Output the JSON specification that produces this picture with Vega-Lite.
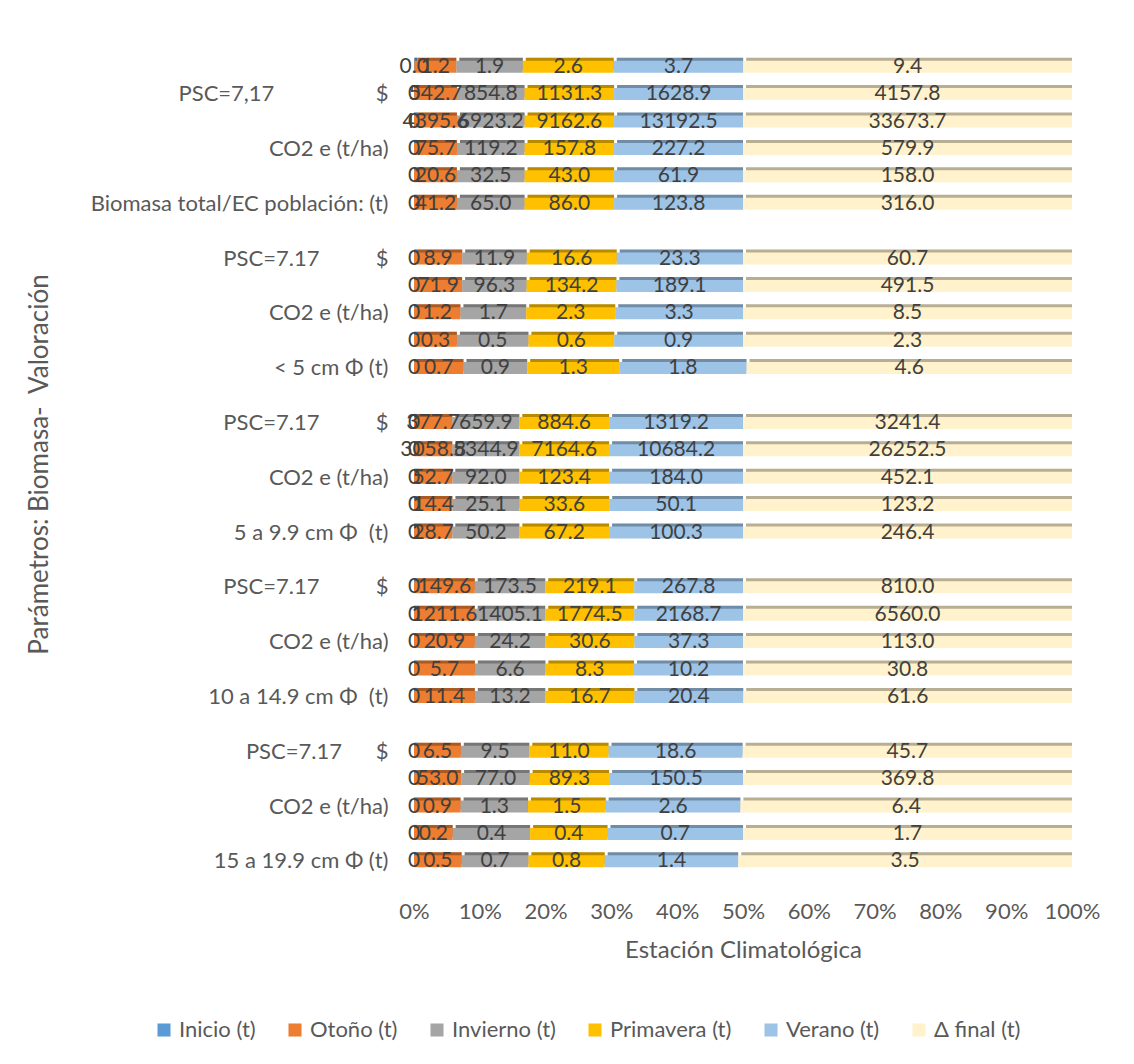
{
  "$schema": "https://vega.github.io/schema/vega-lite/v6.json",
  "width": 658,
  "height": 822,
  "autosize": {"type": "none"},
  "padding": {"left": 414, "top": 53, "right": 62, "bottom": 189},
  "background": "white",
  "config": {
    "font": "Lato",
    "view": {"stroke": null},
    "axis": {
      "labelFont": "Lato",
      "labelFontSize": 22,
      "labelColor": "#595959",
      "labelLimit": 0,
      "labelOverlap": false,
      "labelFlush": false,
      "titleFont": "Lato",
      "titleFontWeight": "normal",
      "titleColor": "#595959",
      "domain": false,
      "ticks": false,
      "grid": false
    },
    "legend": {
      "labelFont": "Lato",
      "labelFontSize": 22,
      "labelColor": "#595959",
      "labelLimit": 0
    }
  },
  "datasets": {
    "series": [
      {"s": "Inicio (t)", "k": 1},
      {"s": "Otoño (t)", "k": 2},
      {"s": "Invierno (t)", "k": 3},
      {"s": "Primavera (t)", "k": 4},
      {"s": "Verano (t)", "k": 5},
      {"s": "Δ final (t)", "k": 6}
    ],
    "rows": [
      {"r": "r01", "Inicio (t)": 0.01, "Otoño (t)": 1.2, "Invierno (t)": 1.9, "Primavera (t)": 2.6, "Verano (t)": 3.7, "Δ final (t)": 9.4},
      {"r": "r02", "Inicio (t)": 0, "Otoño (t)": 542.7, "Invierno (t)": 854.8, "Primavera (t)": 1131.3, "Verano (t)": 1628.9, "Δ final (t)": 4157.8},
      {"r": "r03", "Inicio (t)": 0, "Otoño (t)": 4395.6, "Invierno (t)": 6923.2, "Primavera (t)": 9162.6, "Verano (t)": 13192.5, "Δ final (t)": 33673.7},
      {"r": "r04", "Inicio (t)": 0, "Otoño (t)": 75.7, "Invierno (t)": 119.2, "Primavera (t)": 157.8, "Verano (t)": 227.2, "Δ final (t)": 579.9},
      {"r": "r05", "Inicio (t)": 0, "Otoño (t)": 20.6, "Invierno (t)": 32.5, "Primavera (t)": 43.0, "Verano (t)": 61.9, "Δ final (t)": 158.0},
      {"r": "r06", "Inicio (t)": 0, "Otoño (t)": 41.2, "Invierno (t)": 65.0, "Primavera (t)": 86.0, "Verano (t)": 123.8, "Δ final (t)": 316.0},
      {"r": "r08", "Inicio (t)": 0, "Otoño (t)": 8.9, "Invierno (t)": 11.9, "Primavera (t)": 16.6, "Verano (t)": 23.3, "Δ final (t)": 60.7},
      {"r": "r09", "Inicio (t)": 0, "Otoño (t)": 71.9, "Invierno (t)": 96.3, "Primavera (t)": 134.2, "Verano (t)": 189.1, "Δ final (t)": 491.5},
      {"r": "r10", "Inicio (t)": 0, "Otoño (t)": 1.2, "Invierno (t)": 1.7, "Primavera (t)": 2.3, "Verano (t)": 3.3, "Δ final (t)": 8.5},
      {"r": "r11", "Inicio (t)": 0, "Otoño (t)": 0.3, "Invierno (t)": 0.5, "Primavera (t)": 0.6, "Verano (t)": 0.9, "Δ final (t)": 2.3},
      {"r": "r12", "Inicio (t)": 0, "Otoño (t)": 0.7, "Invierno (t)": 0.9, "Primavera (t)": 1.3, "Verano (t)": 1.8, "Δ final (t)": 4.6},
      {"r": "r14", "Inicio (t)": 0, "Otoño (t)": 377.7, "Invierno (t)": 659.9, "Primavera (t)": 884.6, "Verano (t)": 1319.2, "Δ final (t)": 3241.4},
      {"r": "r15", "Inicio (t)": 0, "Otoño (t)": 3058.8, "Invierno (t)": 5344.9, "Primavera (t)": 7164.6, "Verano (t)": 10684.2, "Δ final (t)": 26252.5},
      {"r": "r16", "Inicio (t)": 0, "Otoño (t)": 52.7, "Invierno (t)": 92.0, "Primavera (t)": 123.4, "Verano (t)": 184.0, "Δ final (t)": 452.1},
      {"r": "r17", "Inicio (t)": 0, "Otoño (t)": 14.4, "Invierno (t)": 25.1, "Primavera (t)": 33.6, "Verano (t)": 50.1, "Δ final (t)": 123.2},
      {"r": "r18", "Inicio (t)": 0, "Otoño (t)": 28.7, "Invierno (t)": 50.2, "Primavera (t)": 67.2, "Verano (t)": 100.3, "Δ final (t)": 246.4},
      {"r": "r20", "Inicio (t)": 0, "Otoño (t)": 149.6, "Invierno (t)": 173.5, "Primavera (t)": 219.1, "Verano (t)": 267.8, "Δ final (t)": 810.0},
      {"r": "r21", "Inicio (t)": 0, "Otoño (t)": 1211.6, "Invierno (t)": 1405.1, "Primavera (t)": 1774.5, "Verano (t)": 2168.7, "Δ final (t)": 6560.0},
      {"r": "r22", "Inicio (t)": 0, "Otoño (t)": 20.9, "Invierno (t)": 24.2, "Primavera (t)": 30.6, "Verano (t)": 37.3, "Δ final (t)": 113.0},
      {"r": "r23", "Inicio (t)": 0, "Otoño (t)": 5.7, "Invierno (t)": 6.6, "Primavera (t)": 8.3, "Verano (t)": 10.2, "Δ final (t)": 30.8},
      {"r": "r24", "Inicio (t)": 0, "Otoño (t)": 11.4, "Invierno (t)": 13.2, "Primavera (t)": 16.7, "Verano (t)": 20.4, "Δ final (t)": 61.6},
      {"r": "r26", "Inicio (t)": 0, "Otoño (t)": 6.5, "Invierno (t)": 9.5, "Primavera (t)": 11.0, "Verano (t)": 18.6, "Δ final (t)": 45.7},
      {"r": "r27", "Inicio (t)": 0, "Otoño (t)": 53.0, "Invierno (t)": 77.0, "Primavera (t)": 89.3, "Verano (t)": 150.5, "Δ final (t)": 369.8},
      {"r": "r28", "Inicio (t)": 0, "Otoño (t)": 0.9, "Invierno (t)": 1.3, "Primavera (t)": 1.5, "Verano (t)": 2.6, "Δ final (t)": 6.4},
      {"r": "r29", "Inicio (t)": 0, "Otoño (t)": 0.2, "Invierno (t)": 0.4, "Primavera (t)": 0.4, "Verano (t)": 0.7, "Δ final (t)": 1.7},
      {"r": "r30", "Inicio (t)": 0, "Otoño (t)": 0.5, "Invierno (t)": 0.7, "Primavera (t)": 0.8, "Verano (t)": 1.4, "Δ final (t)": 3.5}
    ]
  },
  "data": {"name": "rows"},
  "transform": [
    {"fold": ["Inicio (t)", "Otoño (t)", "Invierno (t)", "Primavera (t)", "Verano (t)", "Δ final (t)"], "as": ["s", "v"]},
    {"lookup": "s", "from": {"data": {"name": "series"}, "key": "s", "fields": ["k"]}},
    {"stack": "v", "groupby": ["r"], "sort": [{"field": "k", "order": "ascending"}], "offset": "normalize", "as": ["x0", "x1"]},
    {"calculate": "(datum.x0 + datum.x1) / 2", "as": "mid"},
    {"calculate": "datum.v === 0 ? '0' : format(datum.v, '.1f')", "as": "lbl"}
  ],
  "encoding": {
    "y": {
      "field": "r",
      "type": "nominal",
      "scale": {
        "domain": ["r01","r02","r03","r04","r05","r06","r07","r08","r09","r10","r11","r12","r13","r14","r15","r16","r17","r18","r19","r20","r21","r22","r23","r24","r25","r26","r27","r28","r29","r30"],
        "paddingInner": 0,
        "paddingOuter": 0
      },
      "axis": {
        "title": "Parámetros: Biomasa-\u00a0\u00a0Valoración",
        "titleFontSize": 26,
        "titleX": -362,
        "titleY": 411,
        "titleAnchor": "middle",
        "labelPadding": 26,
        "labelExpr": "({'r02': 'PSC=7,17\u00a0\u00a0\u00a0\u00a0\u00a0\u00a0\u00a0\u00a0\u00a0\u00a0\u00a0\u00a0\u00a0\u00a0\u00a0\u00a0\u00a0\u00a0$', 'r04': 'CO2 e (t/ha)', 'r06': 'Biomasa total/EC población: (t)', 'r08': 'PSC=7.17\u00a0\u00a0\u00a0\u00a0\u00a0\u00a0\u00a0\u00a0\u00a0\u00a0$', 'r10': 'CO2 e (t/ha)', 'r12': '< 5 cm Φ (t)', 'r14': 'PSC=7.17\u00a0\u00a0\u00a0\u00a0\u00a0\u00a0\u00a0\u00a0\u00a0\u00a0$', 'r16': 'CO2 e (t/ha)', 'r18': '5 a 9.9 cm Φ\u00a0\u00a0(t)', 'r20': 'PSC=7.17\u00a0\u00a0\u00a0\u00a0\u00a0\u00a0\u00a0\u00a0\u00a0\u00a0$', 'r22': 'CO2 e (t/ha)', 'r24': '10 a 14.9 cm Φ\u00a0\u00a0(t)', 'r26': 'PSC=7.17\u00a0\u00a0\u00a0\u00a0\u00a0\u00a0$', 'r28': 'CO2 e (t/ha)', 'r30': '15 a 19.9 cm Φ (t)'})[datum.value] || ''"
      }
    }
  },
  "layer": [
    {
      "mark": {"type": "bar", "size": 12, "xOffset": 3, "yOffset": -3},
      "encoding": {
        "x": {
          "field": "x0",
          "type": "quantitative",
          "scale": {"domain": [0, 1], "nice": false},
          "axis": {
            "title": "Estación Climatológica",
            "titleFontSize": 24,
            "format": ".0%",
            "values": [0, 0.1, 0.2, 0.3, 0.4, 0.5, 0.6, 0.7, 0.8, 0.9, 1],
            "labelPadding": 26,
            "titlePadding": 16
          }
        },
        "x2": {"field": "x1"},
        "color": {
          "field": "s",
          "type": "nominal",
          "scale": {
            "domain": ["Inicio (t)", "Otoño (t)", "Invierno (t)", "Primavera (t)", "Verano (t)", "Δ final (t)"],
            "range": ["#5B9BD5", "#ED7D31", "#A5A5A5", "#FFC000", "#9DC3E6", "#FFF2CC"]
          },
          "legend": {
            "title": null,
            "orient": "none",
            "direction": "horizontal",
            "legendX": -261,
            "legendY": 966,
            "symbolType": "square",
            "symbolSize": 170,
            "symbolStrokeWidth": 0,
            "labelOffset": 4,
            "columnPadding": 28
          }
        }
      }
    },
    {
      "mark": {"type": "bar", "size": 12, "xOffset": 3, "yOffset": -3, "color": "#000000", "opacity": 0.28},
      "encoding": {
        "x": {"field": "x0", "type": "quantitative"},
        "x2": {"field": "x1"}
      }
    },
    {
      "mark": {"type": "bar", "size": 12},
      "encoding": {
        "x": {"field": "x0", "type": "quantitative"},
        "x2": {"field": "x1"},
        "color": {"field": "s", "type": "nominal"}
      }
    },
    {
      "mark": {"type": "text", "font": "Lato", "fontSize": 21, "color": "#404040", "align": "center", "baseline": "middle"},
      "encoding": {
        "x": {"field": "mid", "type": "quantitative"},
        "text": {"field": "lbl"}
      }
    }
  ]
}
